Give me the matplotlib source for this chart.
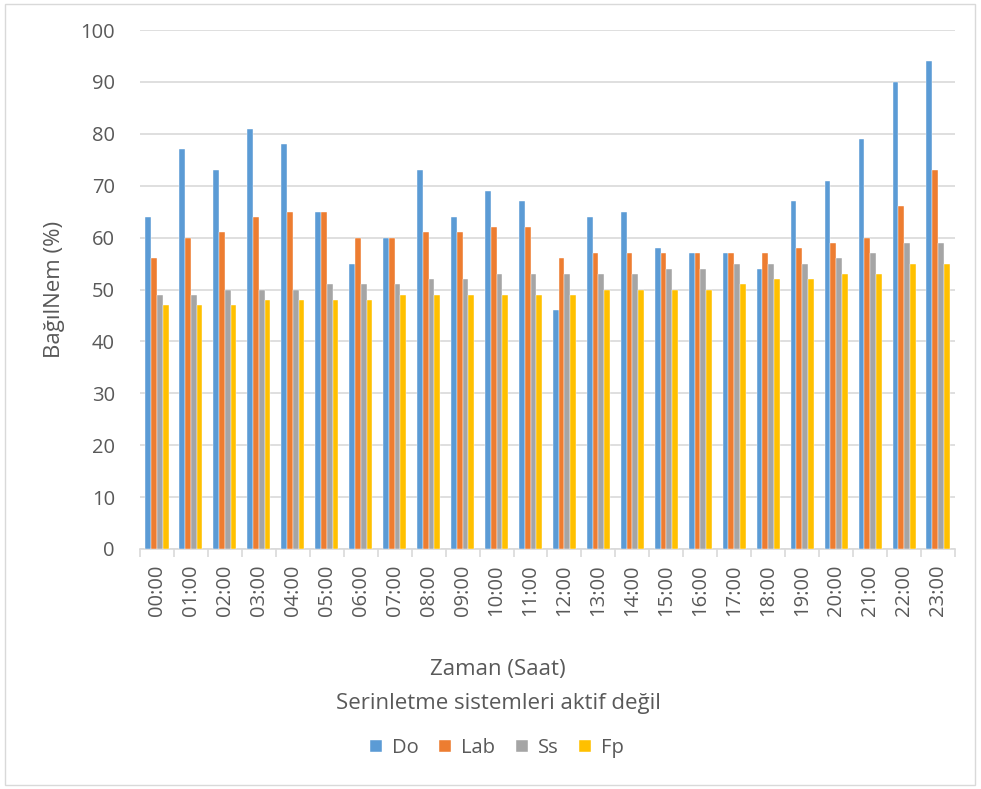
import numpy as np
import matplotlib.pyplot as plt
from matplotlib.patches import Rectangle

hours = [f"{h:02d}:00" for h in range(24)]
do_vals = [64, 77, 73, 81, 78, 65, 55, 60, 73, 64, 69, 67, 46, 64, 65, 58, 57, 57, 54, 67, 71, 79, 90, 94]
lab_vals = [56, 60, 61, 64, 65, 65, 60, 60, 61, 61, 62, 62, 56, 57, 57, 57, 57, 57, 57, 58, 59, 60, 66, 73]
ss_vals = [49, 49, 50, 50, 50, 51, 51, 51, 52, 52, 53, 53, 53, 53, 53, 54, 54, 55, 55, 55, 56, 57, 59, 59]
fp_vals = [47, 47, 47, 48, 48, 48, 48, 49, 49, 49, 49, 49, 49, 50, 50, 50, 50, 51, 52, 52, 53, 53, 55, 55]

series = [("Do", do_vals, "#5b9bd5"), ("Lab", lab_vals, "#ed7d31"),
          ("Ss", ss_vals, "#a5a5a5"), ("Fp", fp_vals, "#ffc000")]

plt.rcParams["font.family"] = ["Open Sans", "DejaVu Sans"]
text_col = "#595959"

fig = plt.figure(figsize=(9.81, 7.89), dpi=100)
ax = fig.add_axes([140 / 981, 1 - 549 / 789, 815 / 981, 519 / 789])

x = np.arange(len(hours))
w = 0.17
for i, (name, vals, col) in enumerate(series):
    ax.bar(x + (i - 1.5) * w, vals, width=w, color=col, label=name,
           edgecolor="white", linewidth=0.3, zorder=3)

ax.set_xlim(-0.5, len(hours) - 0.5)
ax.set_ylim(0, 100)
ax.set_yticks(range(0, 101, 10))
ax.yaxis.grid(True, color="#d9d9d9", linewidth=1.2, zorder=0)
ax.set_axisbelow(True)

for s in ["top", "right", "left"]:
    ax.spines[s].set_visible(False)
ax.spines["bottom"].set_color("#d9d9d9")
ax.spines["bottom"].set_linewidth(1.2)

ax.set_xticks(x)
ax.set_xticklabels(hours, rotation=90)
ax.set_xticks(np.arange(-0.5, len(hours)), minor=True)
ax.tick_params(axis="x", which="major", length=0, pad=11, labelsize=14.5, labelcolor=text_col)
ax.tick_params(axis="x", which="minor", length=6, color="#d9d9d9", width=1.2)
ax.tick_params(axis="y", length=0, pad=18, labelsize=14.5, labelcolor=text_col)

ax.set_ylabel("BağılNem (%)", fontsize=16, color=text_col)
ax.yaxis.set_label_coords(-(140 - 65) / 815, 0.5)

fig.text(498 / 981, 1 - 670 / 789, "Zaman (Saat)", ha="center", va="center",
         fontsize=16, color=text_col)
fig.text(498 / 981, 1 - 703 / 789, "Serinletme sistemleri aktif değil", ha="center",
         va="center", fontsize=16, color=text_col)

fig.legend(loc="center", bbox_to_anchor=(497 / 981, 1 - 748 / 789), ncol=4,
           frameon=False, fontsize=14.5, handlelength=0.6, handleheight=0.6,
           columnspacing=1.0, handletextpad=0.5, labelcolor=text_col)

fig.patches.append(Rectangle((5 / 981, 4 / 789), 970 / 981, 781 / 789,
                             transform=fig.transFigure, fill=False,
                             edgecolor="#d9d9d9", linewidth=1))

fig.savefig("out.png", dpi=100)
plt.close(fig)
